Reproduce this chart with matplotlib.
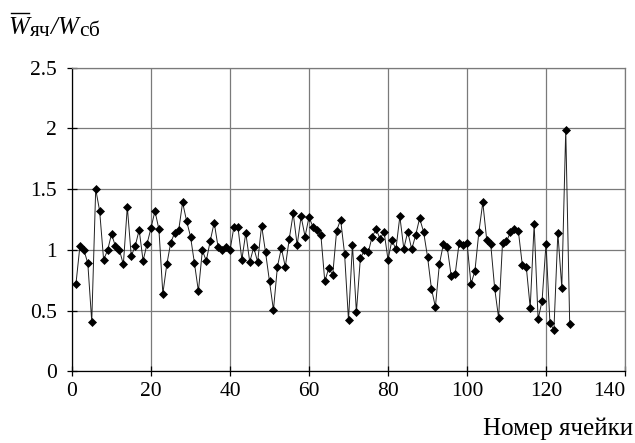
import matplotlib
matplotlib.use("Agg")
import matplotlib.pyplot as plt
from matplotlib.lines import Line2D

plt.rcParams['font.family'] = ['Liberation Serif', 'DejaVu Serif']

cells = list(range(1, 127))
ratio = [
    0.72, 1.03, 1.00, 0.89, 0.41, 1.50, 1.32, 0.92, 0.995, 1.13,
    1.03, 1.00, 0.88, 1.355, 0.95, 1.03, 1.165, 0.91, 1.05, 1.18,
    1.32, 1.17, 0.64, 0.88, 1.06, 1.14, 1.16, 1.39, 1.24, 1.11,
    0.89, 0.66, 0.995, 0.91, 1.075, 1.225, 1.02, 1.00, 1.02, 0.995,
    1.19, 1.19, 0.92, 1.14, 0.90, 1.02, 0.90, 1.20, 0.98, 0.74,
    0.505, 0.86, 1.015, 0.86, 1.09, 1.30, 1.04, 1.275, 1.11, 1.27,
    1.19, 1.16, 1.125, 0.74, 0.85, 0.795, 1.157, 1.25, 0.97, 0.42,
    1.04, 0.487, 0.93, 0.995, 0.98, 1.11, 1.17, 1.09, 1.15, 0.92,
    1.08, 1.005, 1.275, 1.01, 1.15, 1.005, 1.12, 1.26, 1.15, 0.945,
    0.68, 0.53, 0.88, 1.045, 1.02, 0.785, 0.80, 1.055, 1.04, 1.06,
    0.72, 0.825, 1.145, 1.39, 1.08, 1.05, 0.685, 0.44, 1.06, 1.07,
    1.145, 1.175, 1.155, 0.877, 0.863, 0.525, 1.21, 0.43, 0.578, 1.05,
    0.397, 0.34, 1.14, 0.69, 1.99, 0.39,
]
xticks = [0, 20, 40, 60, 80, 100, 120, 140]
yticks = [0, 0.5, 1, 1.5, 2, 2.5]
yticklabels = ['0', '0.5', '1', '1.5', '2', '2.5']

W, H = 635, 443
fig = plt.figure(figsize=(6.35, 4.43), dpi=100)
ax = fig.add_axes([72/W, 1-371.4/H, (625-72)/W, (371.4-67.6)/H])

grid_c = '#7a7a7a'
ax.plot(cells, ratio, color='#202020', lw=0.7, marker='D', ms=4.3,
        mfc='black', mec='black', mew=0.5, zorder=3)

ax.set_xlim(0, 140)
ax.set_ylim(0, 2.5)
ax.set_xticks(xticks)
ax.set_yticks(yticks)
ax.set_yticklabels(yticklabels)
ax.grid(True, color=grid_c, lw=0.9)
ax.set_axisbelow(True)
for s in ['top', 'right']:
    ax.spines[s].set_color(grid_c)
    ax.spines[s].set_linewidth(0.9)
for s in ['left', 'bottom']:
    ax.spines[s].set_color('black')
    ax.spines[s].set_linewidth(0.9)
ax.tick_params(direction='inout', length=6.5, width=0.9, labelsize=15.5,
               colors='black')
ax.tick_params(axis='y', pad=7.5)
ax.tick_params(axis='x', pad=4.5)
for lab in ax.get_xticklabels() + ax.get_yticklabels():
    lab.set_family('Liberation Serif')
xl = ax.get_xticklabels()
xl[-1].set_ha('right')
xl[-1].set_x(140)

renderer = fig.canvas.get_renderer()
def px2fig(x, y):
    return x / W, 1 - y / H

parts = [
    ('W', 18, 'italic', 0.0),
    ('яч', 15.5, 'normal', 3.0),
    ('/', 18, 'italic', 0.0),
    ('W', 18, 'italic', 0.0),
    ('сб', 15.5, 'normal', 3.0),
]
xcur = 8.0
base = 33.5
first_ext = None
for txt, fs, style, drop in parts:
    fx, fy = px2fig(xcur, base + drop)
    t = fig.text(fx, fy, txt, fontsize=fs, style=style, ha='left',
                 va='baseline')
    ext = t.get_window_extent(renderer)
    if first_ext is None:
        first_ext = ext
    xcur += ext.width + (1.0 if txt == 'W' else 0.0)

ox0 = first_ext.x0 + 3
ox1 = first_ext.x1
oy = 13.0
fig.add_artist(Line2D([ox0 / W, ox1 / W], [1 - oy / H, 1 - oy / H],
                      color='black', lw=1.0, transform=fig.transFigure))

fig.text(633/W, 1-435/H, 'Номер ячейки', fontsize=18,
         ha='right', va='baseline')

fig.savefig('out.png', dpi=100)
